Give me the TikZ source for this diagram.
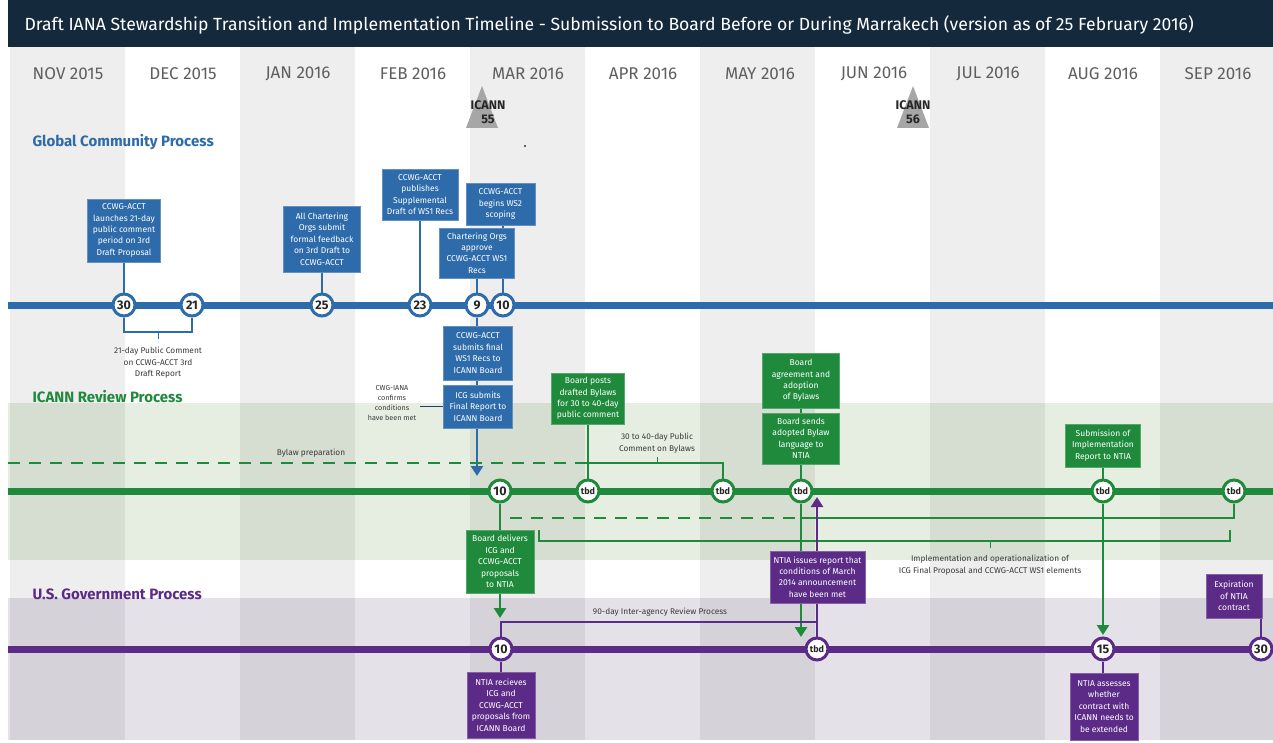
\documentclass[tikz,border=0pt]{standalone}
\usepackage{fontspec}
\setmainfont{Fira Sans}
\usetikzlibrary{arrows.meta}
\definecolor{navy}{HTML}{15293C}
\definecolor{cblue}{HTML}{2E6BAA}
\definecolor{cgreen}{HTML}{1F8A3C}
\definecolor{cpurple}{HTML}{5B2B87}
\definecolor{monthgray}{HTML}{5F5F5F}
\definecolor{greenband}{HTML}{E6EEE2}
\definecolor{purpleband}{HTML}{E5E1E9}
\definecolor{notegray}{HTML}{3A3A3A}
\newcommand\bxfont{\fontsize{8.5}{11.4}\selectfont}
\newcommand\dtfont{\fontsize{12.5}{12.5}\selectfont\bfseries}
\newcommand\tbdfont{\fontsize{9}{9}\selectfont\bfseries}
\newcommand\ntfont{\fontsize{8.3}{11.5}\selectfont}
\pgfdeclarelayer{bg}
\pgfdeclarelayer{conn}
\pgfsetlayers{bg,conn,main}
\tikzset{
  evbox/.style={draw=#1!75!white, line width=0.8pt, fill=#1, text=white, font=\bxfont, align=center, inner sep=1pt},
  bbox/.style={evbox=cblue},
  gbox/.style={evbox=cgreen},
  pbox/.style={evbox=cpurple},
  dot/.style={circle, fill=white, draw=#1, line width=3pt, minimum size=22pt, inner sep=0pt, font=\dtfont, text=black!85},
  tbd/.style={font=\tbdfont},
  tline/.style={line width=7pt},
  conn/.style={line width=2.6pt},
  brk/.style={line width=1.8pt},
  arr/.style={-{Triangle[width=12pt,length=10pt]}},
  note/.style={font=\ntfont, text=notegray, align=center},
  month/.style={font=\fontsize{17}{17}\selectfont, text=monthgray},
  section/.style={font=\fontsize{15}{15}\selectfont\bfseries, anchor=west},
  icann/.style={font=\fontsize{12.5}{14}\selectfont\bfseries, text=black!85, align=center},
}
\begin{document}
\begin{tikzpicture}[x=1pt,y=-1pt]
\useasboundingbox (0,0) rectangle (1273,743);
% ---------- background ----------
\begin{pgfonlayer}{bg}
\fill[white] (0,0) rectangle (1273,743);
\fill[greenband] (8,403) rectangle (1273,560);
\fill[purpleband] (8,598) rectangle (1273,740);
\foreach \i in {0,2,4,6,8,10}{
  \fill[black,opacity=0.065] ({10+115*\i},47) rectangle ({10+115*(\i+1)},740);
}
\fill[navy] (8,0) rectangle (1273,47);
\end{pgfonlayer}
\node[anchor=west, text=white, font=\fontsize{17.6}{18}\selectfont] (title) at (21,25)
  {Draft IANA Stewardship Transition and Implementation Timeline - Submission to Board Before or During Marrakech (version as of 25 February 2016)};
% months
\node[month] (m1) at (68,74) {NOV 2015};
\node[month] (m2) at (183,74) {DEC 2015};
\node[month] (m3) at (298,74) {JAN 2016};
\node[month] (m4) at (413,74) {FEB 2016};
\node[month] (m5) at (528,74) {MAR 2016};
\node[month] (m6) at (643,74) {APR 2016};
\node[month] (m7) at (760,74) {MAY 2016};
\node[month] (m8) at (874,74) {JUN 2016};
\node[month] (m9) at (988,74) {JUL 2016};
\node[month] (m10) at (1103,74) {AUG 2016};
\node[month] (m11) at (1218,74) {SEP 2016};
% ICANN meetings
\fill[black!35] (482,86) -- (498,128) -- (466,128) -- cycle;
\node[icann] (i55) at (488,112) {ICANN\\55};
\fill[black!35] (913,86) -- (929,128) -- (897,128) -- cycle;
\node[icann] (i56) at (913,112) {ICANN\\56};
\fill[black!80] (525,146) circle (1.2);
% sections
\node[section, text=cblue] (s1) at (29,142) {Global Community Process};
\node[section, text=cgreen] (s2) at (29,397) {ICANN Review Process};
\node[section, text=cpurple] (s3) at (29,594) {U.S. Government Process};
% ---------- Global community (blue) ----------
\node[dot=cblue] (c30) at (124,305) {30};
\node[dot=cblue] (c21) at (192,305) {21};
\node[dot=cblue] (c25) at (322,305) {25};
\node[dot=cblue] (c23) at (420,305) {23};
\node[dot=cblue] (c9) at (477,305) {9};
\node[dot=cblue] (cb10) at (503,305) {10};
\node[bbox, minimum width=73pt, minimum height=63pt] (b1) at (124,230.5) {CCWG-ACCT\\launches 21-day\\public comment\\period on 3rd\\Draft Proposal};
\node[bbox, minimum width=77pt, minimum height=66pt] (b2) at (322,239) {All Chartering\\Orgs submit\\formal feedback\\on 3rd Draft to\\CCWG-ACCT};
\node[bbox, minimum width=76pt, minimum height=51pt] (b3) at (420,194.5) {CCWG-ACCT\\publishes\\Supplemental\\Draft of WS1 Recs};
\node[bbox, minimum width=69pt, minimum height=42pt] (b4) at (500.5,204) {CCWG-ACCT\\begins WS2\\scoping};
\node[bbox, minimum width=75pt, minimum height=50pt] (b5) at (477,253) {Chartering Orgs\\approve\\CCWG-ACCT WS1\\Recs};
\node[bbox, minimum width=69pt, minimum height=54pt] (b6) at (478,353) {CCWG-ACCT\\submits final\\WS1 Recs to\\ICANN Board};
\node[bbox, minimum width=69pt, minimum height=43pt] (b7) at (478,406.5) {ICG submits\\Final Report to\\ICANN Board};
\node[note, font=\fontsize{7.2}{10}\selectfont] (cwg) at (392,403) {CWG-IANA\\confirms\\conditions\\have been met};
\node[note] (n21) at (158,363) {21-day Public Comment\\on CCWG-ACCT 3rd\\Draft Report};
\coordinate (br21) at (158,332);
\coordinate (barr) at (477,476);
% ---------- ICANN review (green) ----------
\node[dot=cgreen] (g10) at (500,491) {10};
\node[dot=cgreen, tbd] (gt1) at (588,491) {tbd};
\node[dot=cgreen, tbd] (gt2) at (723,491) {tbd};
\node[dot=cgreen, tbd] (gt3) at (801,491) {tbd};
\node[dot=cgreen, tbd] (gt4) at (1103,491) {tbd};
\node[dot=cgreen, tbd] (gt5) at (1234,491) {tbd};
\node[gbox, minimum width=73pt, minimum height=51pt] (gb1) at (588,398.5) {Board posts\\drafted Bylaws\\for 30 to 40-day\\public comment};
\node[gbox, minimum width=77pt, minimum height=55pt] (gb2) at (801,380.5) {Board\\agreement and\\adoption\\of Bylaws};
\node[gbox, minimum width=77pt, minimum height=51pt] (gb3) at (801,438.5) {Board sends\\adopted Bylaw\\language to\\NTIA};
\node[gbox, minimum width=75pt, minimum height=43pt] (gb4) at (1103,445.5) {Submission of\\Implementation\\Report to NTIA};
\node[gbox, minimum width=68pt, minimum height=63pt] (gb5) at (500,561.5) {Board delivers\\ICG and\\CCWG-ACCT\\proposals\\to NTIA};
\node[note] (nby) at (311,453) {Bylaw preparation};
\node[note] (n3040) at (657,443) {30 to 40-day Public\\Comment on Bylaws};
\node[note] (nimp) at (990,565) {Implementation and operationalization of\\ICG Final Proposal and CCWG-ACCT WS1 elements};
\coordinate (bl0) at (8,463);
\coordinate (bl1) at (588,463);
\coordinate (t3040) at (657,463);
\coordinate (im0) at (510,518);
\coordinate (im1) at (801,518);
\coordinate (ib0) at (539,530);
\coordinate (ib1) at (539,541);
\coordinate (ib2) at (1230,541);
\coordinate (ib3) at (1230,530);
\coordinate (timp) at (990,541);
\coordinate (garr1) at (500,618);
\coordinate (garr2) at (801,637);
\coordinate (garr3) at (1103,635);
% ---------- US Government (purple) ----------
\node[dot=cpurple] (p10) at (501,649) {10};
\node[dot=cpurple, tbd] (pt) at (817,649) {tbd};
\node[dot=cpurple] (p15) at (1103,649) {15};
\node[dot=cpurple] (p30) at (1261,649) {30};
\node[pbox, minimum width=68pt, minimum height=66pt] (pb1) at (501,705) {NTIA recieves\\ICG and\\CCWG-ACCT\\proposals from\\ICANN Board};
\node[pbox, minimum width=95pt, minimum height=52pt] (pb2) at (817.5,577) {NTIA issues report that\\conditions of March\\2014 announcement\\have been met};
\node[pbox, minimum width=56pt, minimum height=44pt] (pb3) at (1234,596) {Expiration\\of NTIA\\contract};
\node[pbox, minimum width=68pt, minimum height=67pt] (pb4) at (1104,706.5) {NTIA assesses\\whether\\contract with\\ICANN needs to\\be extended};
\node[note] (n90) at (660,612) {90-day Inter-agency Review Process};
\coordinate (nd) at (817,622);
\coordinate (parr) at (817,497);
% ---------- connectors ----------
\begin{pgfonlayer}{conn}
% timelines
\draw[tline, cblue] (8,305) -- (1273,305);
\draw[tline, cgreen] (8,491) -- (1273,491);
\draw[tline, cpurple] (8,649) -- (1273,649);
% blue
\draw[conn, cblue] (b1) -- (c30);
\draw[conn, cblue] (b2) -- (c25);
\draw[conn, cblue] (b3) -- (c23);
\draw[conn, cblue] (b4.south -| cb10) -- (cb10);
\draw[conn, cblue] (b5) -- (c9);
\draw[conn, cblue] (c9) -- (b6.north -| c9);
\draw[conn, cblue] (b6.south -| c9) -- (b7.north -| c9);
\draw[conn, cblue, arr] (b7.south -| c9) -- (barr);
\draw[brk, cblue] (c30) |- (br21) -| (c21);
\draw[line width=1pt, cblue] (br21) -- ++(0,7);
\draw[line width=1.2pt, cblue!60!black] (cwg.east |- b7.west) -- (b7.west);
% green
\draw[conn, cgreen] (gb1) -- (gt1);
\draw[conn, cgreen] (gb2) -- (gb3);
\draw[conn, cgreen] (gb3) -- (gt3);
\draw[conn, cgreen] (gb4) -- (gt4);
\draw[conn, cgreen] (g10) -- (gb5);
\draw[conn, cgreen, arr] (gb5) -- (garr1);
\draw[conn, cgreen, arr] (gt3) -- (garr2);
\draw[conn, cgreen, arr] (gt4) -- (garr3);
\draw[conn, cgreen, dash pattern=on 12pt off 9pt] (bl0) -- (bl1);
\draw[brk, cgreen] (bl1) -| (gt2);
\draw[line width=1pt, cgreen] (t3040) -- ++(0,-6);
\draw[conn, cgreen, dash pattern=on 12pt off 9pt] (im0) -- (im1);
\draw[conn, cgreen] (im1) -| (gt5);
\draw[brk, cgreen] (ib0) -- (ib1) -- (ib2) -- (ib3);
\draw[line width=1pt, cgreen] (timp) -- ++(0,7);
% purple
\draw[conn, cpurple] (p10) |- (nd);
\draw[conn, cpurple, arr] (pt) -- (parr);
\draw[conn, cpurple] (pb1) -- (p10);
\draw[conn, cpurple] (pb4.north -| p15) -- (p15);
\draw[conn, cpurple] (pb3.south -| p30) -- (p30);
\end{pgfonlayer}
\end{tikzpicture}
\end{document}
